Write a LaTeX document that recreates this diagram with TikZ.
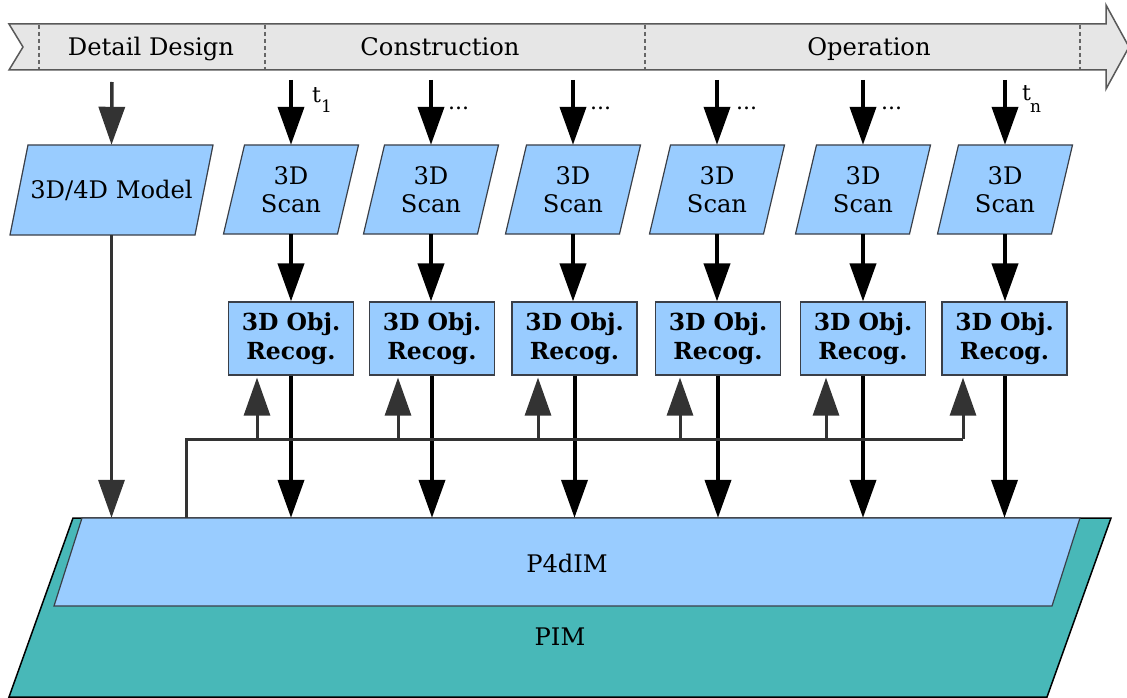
\documentclass[tikz,border=0pt]{standalone}
\usepackage{fontspec}
\setmainfont{DejaVu Serif}
\usetikzlibrary{arrows.meta,calc}
\definecolor{boxblue}{HTML}{99CCFF}
\definecolor{pimteal}{HTML}{48B8B8}
\definecolor{bannergray}{HTML}{E6E6E6}
\definecolor{dgray}{HTML}{333333}
\definecolor{outl}{HTML}{3A3F48}
% parallelogram: cx, cy, half mid-width, half height, half skew, style
\newcommand\pgram[6]{%
  \filldraw[#6] ({#1-#3+#5},{#2-#4}) -- ({#1+#3+#5},{#2-#4})
    -- ({#1+#3-#5},{#2+#4}) -- ({#1-#3-#5},{#2+#4}) -- cycle;}
\begin{document}
\begin{tikzpicture}[x=1pt,y=-1pt,
  every node/.style={font=\fontsize{24.2}{28}\selectfont},
  pfill/.style={fill=boxblue, draw=outl, line width=1.2pt, line join=miter},
  plabel/.style={draw=none, fill=none, inner sep=0pt, align=center},
  recog/.style={draw=outl, line width=1.2pt, fill=boxblue, minimum width=125pt,
    minimum height=73pt, inner sep=0pt, align=center,
    font=\bfseries\fontsize{23.5}{29}\selectfont},
  blk/.style={black, line width=4pt, -{Triangle[length=38pt,width=26pt]}},
  gry/.style={dgray, line width=3.5pt, -{Triangle[length=38pt,width=26pt]}},
  fbline/.style={dgray, line width=3pt},
  tlab/.style={font=\fontsize{22}{22}\selectfont, inner sep=0pt, anchor=base west},
  sublab/.style={font=\fontsize{17}{17}\selectfont, inner sep=0pt, anchor=base west},
  phase/.style={anchor=base, inner sep=0pt},
  sep/.style={black!60, line width=1.2pt, dash pattern=on 4pt off 3pt}
]
\useasboundingbox (0,0) rectangle (1127,698);

% timeline banner
\filldraw[fill=bannergray, draw=black!65, line width=1.5pt, line join=miter]
  (9,24) -- (1106,24) -- (1106,5) -- (1129,47) -- (1106,89) -- (1106,70)
  -- (9,70) -- (23,47) -- cycle;
\foreach \x in {39,265,645,1080} \draw[sep] (\x,25) -- (\x,69);
\node[phase] (pdd) at (151,56) {Detail Design};
\node[phase] (pcon) at (440,56) {Construction};
\node[phase] (pop) at (869,56) {Operation};

% bottom layers
\pgram{560}{607.5}{519}{89.5}{32}{fill=pimteal, draw=black, line width=1.5pt, line join=miter}
\node[plabel, minimum width=1038pt, minimum height=179pt] (pim) at (560,607.5) {};
\node[anchor=base] (pimlab) at (560,645) {PIM};
\pgram{567}{562}{499}{44}{14}{pfill}
\node[plabel, minimum width=998pt, minimum height=88pt] (p4d) at (567,562) {};
\node[anchor=base] (p4dlab) at (567,572) {P4dIM};

% model column
\pgram{111.5}{190}{92.5}{45}{9}{pfill}
\node[plabel, minimum width=185pt, minimum height=90pt] (m) at (111.5,190) {3D/4D Model};
\coordinate (mtop) at (112,82);
\draw[gry] (mtop) -- (m.north);
\draw[gry] (m.south) -- (m.south |- p4d.north);

% scans and recognitions
\foreach \i/\sx/\rx in {1/291/291, 2/431/432, 3/573/574.5, 4/717/718, 5/863/863, 6/1005/1004.5}{
  \pgram{\sx}{189.5}{57}{44.5}{10.5}{pfill}
  \node[plabel, minimum width=114pt, minimum height=89pt] (s\i) at (\sx,189.5) {3D\\Scan};
  \node[recog] (r\i) at (\rx,338.5) {3D Obj.\\Recog.};
  \coordinate (a\i) at (\sx,80);
  \draw[blk] (a\i) -- (s\i.north);
  \draw[blk] (s\i.south) -- (s\i.south |- r\i.north);
  \draw[blk] (r\i.south) -- (r\i.south |- p4d.north);
}

% time labels
\node[tlab] (t1) at (312,103) {t};
\node[sublab] (t1s) at (321,113) {1};
\node[tlab] (d2) at (448,110) {...};
\node[tlab] (d3) at (590,110) {...};
\node[tlab] (d4) at (736,110) {...};
\node[tlab] (d5) at (881,110) {...};
\node[tlab] (tn) at (1022,101) {t};
\node[sublab] (tns) at (1030,113) {n};

% feedback line
\coordinate (fb) at (186,439);
\foreach \i/\ux in {1/257,2/398,3/538,4/680,5/826,6/963}
  \coordinate (u\i) at (\ux,439);
\draw[fbline] (fb |- p4d.north) -- (fb) -- (u6);
\foreach \i in {1,...,6}
  \draw[gry, line width=3pt] (u\i) -- ($(u\i |- r\i.south)+(0,2)$);
\end{tikzpicture}
\end{document}
